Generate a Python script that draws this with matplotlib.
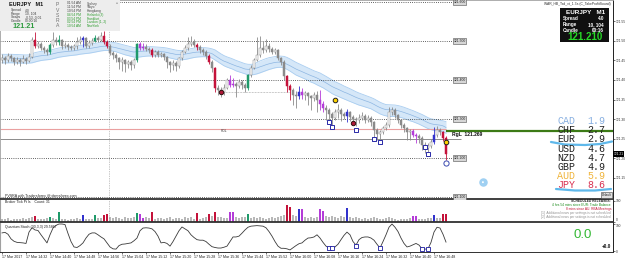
import numpy as np
import pandas as pd
import matplotlib
matplotlib.use("Agg")
import matplotlib.pyplot as plt
from matplotlib.patches import Rectangle
from matplotlib.lines import Line2D

# ---------------- data ----------------
symbol = "EURJPY"
timeframe = "M1"
time_labels = ["17 Mar 2017", "17 Mar 14:32", "17 Mar 14:40", "17 Mar 14:48", "17 Mar 14:56",
               "17 Mar 15:04", "17 Mar 15:12", "17 Mar 15:20", "17 Mar 15:28", "17 Mar 15:36",
               "17 Mar 15:44", "17 Mar 15:52", "17 Mar 16:00", "17 Mar 16:08", "17 Mar 16:16",
               "17 Mar 16:24", "17 Mar 16:32", "17 Mar 16:40", "17 Mar 16:48"]
label_bars = [0, 8, 16, 24, 32, 40, 48, 56, 64, 72, 80, 88, 96, 104, 112, 120, 128, 136, 144]

first_open = 121.452
closes = [121.456, 121.451, 121.462, 121.456, 121.446, 121.451, 121.446, 121.454, 121.449, 121.459,
          121.503, 121.487, 121.492, 121.482, 121.477, 121.472, 121.490, 121.503, 121.497, 121.503,
          121.487, 121.490, 121.485, 121.482, 121.487, 121.497, 121.503, 121.508, 121.487, 121.495,
          121.500, 121.508, 121.503, 121.513, 121.497, 121.487, 121.469, 121.464, 121.456, 121.446,
          121.451, 121.441, 121.446, 121.438, 121.451, 121.492, 121.482, 121.485, 121.479, 121.477,
          121.464, 121.472, 121.464, 121.467, 121.459, 121.446, 121.438, 121.444, 121.436, 121.456,
          121.472, 121.482, 121.492, 121.497, 121.490, 121.485, 121.477, 121.472, 121.462, 121.446,
          121.431, 121.380, 121.374, 121.369, 121.380, 121.400, 121.387, 121.390, 121.385, 121.395,
          121.387, 121.380, 121.413, 121.431, 121.451, 121.464, 121.482, 121.477, 121.487, 121.479,
          121.472, 121.477, 121.456, 121.446, 121.410, 121.385, 121.374, 121.362, 121.359, 121.369,
          121.362, 121.367, 121.359, 121.354, 121.362, 121.349, 121.338, 121.328, 121.323, 121.313,
          121.303, 121.318, 121.323, 121.313, 121.308, 121.318, 121.305, 121.300, 121.297, 121.303,
          121.308, 121.297, 121.303, 121.292, 121.272, 121.261, 121.267, 121.277, 121.285, 121.318,
          121.323, 121.310, 121.297, 121.285, 121.277, 121.267, 121.270, 121.259, 121.256, 121.251,
          121.233, 121.226, 121.231, 121.241, 121.259, 121.272, 121.267, 121.251, 121.210]
highs = [121.466, 121.462, 121.468, 121.467, 121.460, 121.458, 121.456, 121.463, 121.458, 121.468,
         121.510, 121.523, 121.500, 121.497, 121.488, 121.481, 121.494, 121.523, 121.510, 121.515,
         121.505, 121.498, 121.495, 121.490, 121.493, 121.510, 121.512, 121.512, 121.510, 121.502,
         121.508, 121.515, 121.513, 121.522, 121.525, 121.502, 121.492, 121.475, 121.470, 121.460,
         121.458, 121.455, 121.452, 121.450, 121.456, 121.495, 121.497, 121.495, 121.492, 121.485,
         121.482, 121.478, 121.477, 121.473, 121.470, 121.462, 121.449, 121.451, 121.448, 121.460,
         121.477, 121.490, 121.510, 121.513, 121.505, 121.496, 121.490, 121.482, 121.476, 121.466,
         121.450, 121.434, 121.386, 121.383, 121.390, 121.405, 121.413, 121.405, 121.395, 121.402,
         121.400, 121.392, 121.415, 121.438, 121.456, 121.510, 121.513, 121.500, 121.505, 121.495,
         121.485, 121.483, 121.480, 121.460, 121.450, 121.414, 121.390, 121.380, 121.372, 121.384,
         121.380, 121.372, 121.370, 121.362, 121.370, 121.372, 121.374, 121.345, 121.336, 121.328,
         121.318, 121.326, 121.338, 121.328, 121.318, 121.325, 121.320, 121.310, 121.306, 121.312,
         121.318, 121.312, 121.310, 121.308, 121.296, 121.276, 121.272, 121.283, 121.292, 121.331,
         121.331, 121.328, 121.313, 121.300, 121.290, 121.280, 121.275, 121.275, 121.265, 121.262,
         121.256, 121.240, 121.238, 121.248, 121.279, 121.281, 121.278, 121.270, 121.256]
lows = [121.444, 121.440, 121.446, 121.449, 121.438, 121.441, 121.437, 121.443, 121.442, 121.445,
        121.456, 121.482, 121.482, 121.478, 121.470, 121.464, 121.467, 121.485, 121.490, 121.490,
        121.480, 121.482, 121.478, 121.476, 121.478, 121.480, 121.492, 121.484, 121.481, 121.483,
        121.490, 121.497, 121.497, 121.500, 121.492, 121.482, 121.463, 121.455, 121.445, 121.428,
        121.424, 121.421, 121.430, 121.426, 121.432, 121.447, 121.476, 121.478, 121.474, 121.470,
        121.460, 121.460, 121.458, 121.458, 121.450, 121.431, 121.421, 121.426, 121.423, 121.432,
        121.452, 121.468, 121.478, 121.488, 121.484, 121.478, 121.470, 121.465, 121.455, 121.440,
        121.421, 121.369, 121.362, 121.356, 121.362, 121.376, 121.383, 121.382, 121.356, 121.380,
        121.378, 121.370, 121.375, 121.408, 121.428, 121.448, 121.460, 121.470, 121.472, 121.472,
        121.466, 121.466, 121.450, 121.438, 121.400, 121.369, 121.349, 121.336, 121.328, 121.352,
        121.352, 121.349, 121.336, 121.323, 121.345, 121.318, 121.323, 121.318, 121.297, 121.290,
        121.279, 121.298, 121.303, 121.295, 121.300, 121.292, 121.296, 121.290, 121.282, 121.290,
        121.298, 121.290, 121.292, 121.282, 121.251, 121.246, 121.241, 121.262, 121.272, 121.280,
        121.310, 121.303, 121.290, 121.276, 121.266, 121.246, 121.246, 121.254, 121.238, 121.238,
        121.221, 121.213, 121.215, 121.225, 121.236, 121.254, 121.260, 121.244, 121.195]
# PVSRA candle class per bar: n normal, r bear climax, g bull climax, b bull rising, p bear rising
bar_kinds = list("nnnnnnnnnn" "nrnnnngnng" "nnnnnnnbnn" "ngnnrrnnnn" "nnnnngppnn"
                 "rnnnnnnnnn" "nnnnnrnnnr" "nrnnnnppnn" "nngnnnnnnn" "nnnnnrrnnb"
                 "pnnnnnppnn" "nnnnnbnnnn" "nnnnnnnnnn" "nnnnnnnppn" "nnnnbnnrr")
volumes = [15, 12, 18, 10, 14, 16, 12, 20, 14, 18,
           22, 28, 14, 16, 12, 18, 25, 20, 16, 45,
           14, 12, 10, 16, 12, 18, 14, 35, 12, 16,
           14, 32, 18, 20, 34, 36, 22, 18, 24, 20,
           16, 22, 18, 20, 24, 42, 40, 18, 22, 20,
           46, 14, 18, 20, 16, 18, 22, 14, 20, 18,
           16, 22, 18, 26, 14, 42, 16, 20, 24, 40,
           28, 48, 22, 26, 18, 20, 45, 45, 24, 18,
           22, 26, 40, 20, 22, 18, 24, 20, 16, 18,
           22, 20, 26, 30, 34, 80, 70, 32, 28, 60,
           60, 26, 20, 24, 18, 22, 62, 50, 28, 24,
           30, 26, 20, 28, 22, 66, 24, 20, 26, 18,
           16, 20, 14, 18, 22, 20, 16, 14, 18, 24,
           20, 12, 10, 12, 14, 16, 18, 30, 30, 14,
           16, 12, 18, 20, 34, 18, 20, 36, 36]
stoch = [67, 69, 62, 45, 36, 32, 31, 30, 28, 70,
         86, 78, 76, 60, 45, 30, 60, 85, 95, 100,
         100, 98, 65, 35, 15, 13, 20, 30, 48, 62,
         67, 67, 60, 52, 45, 30, 15, 8, 7, 20,
         25, 26, 28, 30, 38, 48, 75, 85, 86, 85,
         82, 72, 55, 30, 32, 28, 18, 35, 55, 75,
         89, 82, 75, 60, 50, 42, 40, 40, 35, 25,
         16, 13, 11, 11, 14, 18, 35, 52, 52, 55,
         66, 78, 88, 92, 93, 94, 93, 92, 86, 72,
         55, 35, 18, 10, 10, 8, 4, 12, 20, 27,
         30, 40, 48, 49, 52, 60, 48, 32, 18, 11,
         11, 15, 25, 42, 58, 70, 60, 35, 22, 42,
         50, 52, 52, 48, 40, 25, 11, 35, 60, 88,
         100, 88, 72, 48, 28, 15, 18, 23, 28, 22,
         8, 7, 8, 32, 70, 88, 85, 62, 33]

round_levels = [121.6, 121.5, 121.4, 121.3, 121.2, 121.1]
axis_ticks = [121.15, 121.20, 121.25, 121.30, 121.35, 121.40, 121.45, 121.50, 121.55]
rdl_level = 121.274
prev_close_level = 121.249
rgl_level = 121.269
current_price = 121.210
trend_level = 121.369
trend_from, trend_to = 73, 96

square_bars = [109, 110, 118, 124, 126, 141, 142]
square_prices = [121.292, 121.279, 121.272, 121.249, 121.241, 121.228, 121.210]
yellow_bars = [111, 148]
yellow_prices = [121.349, 121.241]
red_bars = [73, 117]
red_prices = [121.369, 121.290]
blue_circle_bars = [148]
blue_circle_prices = [121.187]
stoch_sq_bars = [109, 110, 118, 126, 140, 142]
stoch_sq_vals = [11, 11, 20, 10, 8, 8]

currencies = ["CAD", "CHF", "EUR", "USD", "NZD", "GBP", "AUD", "JPY"]
strengths = [1.9, 2.7, 2.9, 4.6, 4.7, 4.9, 5.9, 8.6]
strength_colors = ["#86aee0", "#202020", "#202020", "#202020", "#202020", "#202020", "#f0b43a", "#d83050"]

sessions = ["Sydney", "Tokyo", "Hongkong", "Helsinki (3)", "Frankfurt", "London (1, 2)", "NewYork"]
session_times = ["01:54 AM", "11:54 PM", "10:54 PM", "04:54 PM", "03:54 PM", "02:54 PM", "10:54 AM"]
session_colors = ["#404040", "#404040", "#404040", "#2a9a2a", "#2a9a2a", "#2a9a2a", "#2a9a2a"]

news_lines = ["SCHEDULED RELEASES:", "4 hrs 54 mins since EUR: Trade Balance",
              "8 mins since AU: RBA Meetings",
              "[1]  Additional news per settings is not scheduled",
              "[2]  Additional news per settings is not scheduled"]
news_colors = ["#202020", "#1a8a1a", "#c01030", "#909090", "#909090"]

# ---------------- figure ----------------
W, H = 625, 259
fig = plt.figure(figsize=(W / 100, H / 100), dpi=100)
fig.patch.set_facecolor("white")
plt.rcParams["font.family"] = ["Liberation Sans", "DejaVu Sans"]


def fx(px):
    return px / W


def fy(py):
    return 1 - py / H


AX_R = 613
XL = (-2 / 3, (AX_R - 2) / 3)
ax = fig.add_axes([0, fy(199), fx(AX_R), 199 / H])
axv = fig.add_axes([0, fy(222), fx(AX_R), 22 / H])
axo = fig.add_axes([0, fy(252), fx(AX_R), 29 / H])

kind_colors = {"n": "#8a8a8a", "r": "#c4123a", "g": "#1f9a6a", "b": "#3232cc", "p": "#b43cd8"}
vol_colors = {"n": "#b8b8b8", "r": "#c4123a", "g": "#1f9a6a", "b": "#3232cc", "p": "#b43cd8"}

n = len(closes)
idx = np.arange(n)
opens = [first_open] + closes[:-1]

# ---- main panel ----
ax.set_xlim(*XL)
ax.set_ylim(121.0949, 121.6051)

# 34-EMA wave band
ema_h = pd.Series(highs).ewm(span=34, adjust=False).mean()
ema_l = pd.Series(lows).ewm(span=34, adjust=False).mean()
ema_c = pd.Series(closes).ewm(span=34, adjust=False).mean()
ax.fill_between(idx, ema_l, ema_h, color="#d5e7f8", zorder=1, lw=0)
ax.plot(idx, ema_h, color="#a9cdf0", lw=0.6, zorder=1.5)
ax.plot(idx, ema_l, color="#a9cdf0", lw=0.6, zorder=1.5)
ax.plot(idx, ema_c, color="#8db6e2", lw=0.5, zorder=1.5)

# levels
for lv in round_levels:
    ax.hlines(lv, XL[0], 150.3, colors="#303030", linestyles=(0, (1, 1.6)), lw=0.6, zorder=2)
    ax.text(152.5, lv, f"{lv:.3f}", fontsize=2.4, ha="center", va="center", color="#202020", zorder=6,
            bbox=dict(boxstyle="square,pad=0.25", fc="#d6d6d6", ec="#505050", lw=0.4))
ax.hlines(rdl_level, XL[0], 148, colors="#eaa0a0", lw=0.8, zorder=2)
ax.text(74, rdl_level - 0.006, "RDL", fontsize=2.4, color="#404040", ha="center", va="center")
ax.hlines(prev_close_level, XL[0], 153, colors="#8c8c8c", lw=0.7, zorder=2)
ax.hlines(rgl_level, 148, XL[1], colors="#3c7a16", lw=1.6, zorder=3)
ax.text(150, rgl_level - 0.0085, f"RgL  {rgl_level:.3f}", fontsize=3.6, fontweight="bold",
        color="#101010", ha="left", va="center", zorder=6)
ax.hlines(trend_level, trend_from, trend_to, colors="#909090", linestyles=(0, (1, 1.2)), lw=0.5, zorder=2)
ax.axvline(35.7, color="#909090", ls=(0, (1, 1.5)), lw=0.5, zorder=1)

# candles
for i in range(n):
    k = bar_kinds[i]
    col = kind_colors[k]
    ax.vlines(i, lows[i], highs[i], color=col, lw=0.6, zorder=3)
    lo = min(opens[i], closes[i])
    hgt = max(abs(closes[i] - opens[i]), 0.0012)
    bull = closes[i] >= opens[i]
    fc = "white" if (k == "n" and bull) else col
    ax.add_patch(Rectangle((i - 0.3, lo), 0.6, hgt, facecolor=fc, edgecolor=col, lw=0.35, zorder=4))

# markers
ax.scatter(square_bars, square_prices, marker="s", s=7, facecolors="white", edgecolors="#2a2aa8", lw=0.7, zorder=5)
ax.scatter(yellow_bars, yellow_prices, marker="o", s=11, facecolors="#ffd400", edgecolors="#202020", lw=0.7, zorder=5)
ax.scatter(red_bars, red_prices, marker="o", s=10, facecolors="#b01838", edgecolors="#301010", lw=0.7, zorder=5)
ax.scatter(blue_circle_bars, blue_circle_prices, marker="o", s=14, facecolors="white", edgecolors="#3a4ab0", lw=0.7, zorder=5)
ax.scatter([160.3], [121.138], marker="o", s=26, facecolors="#9fd0f2", edgecolors="#9fd0f2", zorder=5)
ax.scatter([160.3], [121.138], marker="o", s=2, facecolors="white", edgecolors="none", zorder=6)

ax.yaxis.tick_right()
ax.set_yticks(axis_ticks)
ax.set_yticklabels([f"{v:.2f}" for v in axis_ticks], fontsize=2.3, color="#303030")
ax.tick_params(axis="y", length=1.2, width=0.4, pad=0.8)
ax.set_xticks([])
for s in ["top", "left"]:
    ax.spines[s].set_color("#a0a0a0")
    ax.spines[s].set_linewidth(0.6)
ax.spines["right"].set_color("#202020")
ax.spines["right"].set_linewidth(0.7)
ax.spines["bottom"].set_color("#303030")
ax.spines["bottom"].set_linewidth(1.3)
ax.text(1, 121.1045, "PVSRA with Tradersforex @ dsmaforex.com", fontsize=2.6, color="#202020", va="center")

# ---- volume panel ----
axv.set_xlim(*XL)
axv.set_ylim(0, 104)
axv.bar(idx, volumes, width=0.5, color=[vol_colors[k] for k in bar_kinds], lw=0)
axv.axvline(35.7, color="#909090", ls=(0, (1, 1.5)), lw=0.5)
axv.yaxis.tick_right()
axv.set_yticks([0, 100])
axv.set_yticklabels(["0", "100"], fontsize=2.3, color="#303030")
axv.get_yticklabels()[0].set_va("bottom")
axv.tick_params(axis="y", length=1.2, width=0.4, pad=0.8)
axv.set_xticks([])
axv.spines["bottom"].set_color("#303030")
axv.spines["bottom"].set_linewidth(1.3)
axv.spines["top"].set_visible(False)
axv.spines["left"].set_color("#a0a0a0")
axv.spines["right"].set_color("#202020")
axv.spines["right"].set_linewidth(0.7)
axv.text(1, 94, "Broker Tick Pt ls    Count: 31", fontsize=2.5, color="#202020", va="center")

# ---- oscillator panel ----
axo.set_xlim(*XL)
axo.set_ylim(-3.7, 103.7)
axo.plot(idx, stoch, color="#3a3a3a", lw=0.6)
axo.scatter(stoch_sq_bars, stoch_sq_vals, marker="s", s=6, facecolors="white", edgecolors="#1a1aa0", lw=0.6, zorder=5)
axo.yaxis.tick_right()
axo.set_yticks([0, 100])
axo.set_yticklabels(["0", "100"], fontsize=2.3, color="#303030")
axo.get_yticklabels()[1].set_va("top")
axo.tick_params(axis="y", length=1.2, width=0.4, pad=0.8)
axo.set_xticks(label_bars)
axo.set_xticklabels(time_labels, fontsize=2.6, color="#202020", ha="left")
axo.tick_params(axis="x", length=1.5, width=0.4, pad=0.8)
axo.spines["top"].set_visible(False)
axo.spines["left"].set_color("#a0a0a0")
axo.spines["right"].set_color("#202020")
axo.spines["right"].set_linewidth(0.7)
axo.spines["bottom"].set_color("#303030")
axo.spines["bottom"].set_linewidth(0.7)
axo.text(1, 90, "Quantum Stoch (30,3,3) 29.5867", fontsize=2.5, color="#202020", va="center")

# ---------------- overlays (figure coordinates) ----------------
def ftext(px, py, s, **kw):
    fig.text(fx(px), fy(py), s, **kw)


# top-left info panel
fig.add_artist(Rectangle((0, fy(31)), fx(120), 31 / H, transform=fig.transFigure,
                         facecolor="#ededed", edgecolor="none", zorder=5))
ftext(9, 5, f"{symbol}   {timeframe}", fontsize=4.0, fontweight="bold", color="#151515", va="center", zorder=6)
info_labels = ["Spread", "Range", "Swaps", "Candle"]
info_values = ["4.0", "10, 104", "-0.53, 0.01", "00:00:16"]
for k, (lab, val) in enumerate(zip(info_labels, info_values)):
    ftext(11, 10.5 + 3.4 * k, lab, fontsize=2.4, color="#404040", va="center", zorder=6)
    ftext(25, 10.5 + 3.4 * k, val, fontsize=2.4, color="#404040", va="center", zorder=6)
ftext(12, 26, "121.21", fontsize=5.2, fontweight="bold", color="#2e9a3e", va="center", zorder=6)
for k, ch in enumerate("PVSRA"):
    ftext(57.5, 5 + 5.2 * k, ch, fontsize=3.6, color="#707070", ha="center", va="center", zorder=6)
for k in range(len(sessions)):
    ftext(67, 3.5 + 3.75 * k, session_times[k], fontsize=2.3, color=session_colors[k], va="center", zorder=6)
    ftext(87, 3.5 + 3.75 * k, sessions[k], fontsize=2.3, color=session_colors[k], va="center", zorder=6)
ftext(117, 3.5, "^", fontsize=3, color="#404040", ha="center", va="center", zorder=6)

# top-right EA name + black box
ftext(611, 4.5, "WAR_HB_Tsd_vt_1.3a (C_TakeProfitSound)", fontsize=2.4, color="#303030", ha="right", va="center", zorder=6)
fig.add_artist(Rectangle((fx(560), fy(42)), fx(49), 34 / H, transform=fig.transFigure,
                         facecolor="#101010", edgecolor="none", zorder=5))
ftext(586, 12, f"{symbol}   {timeframe}", fontsize=4.6, fontweight="bold", color="white", ha="center", va="center", zorder=6)
box_labels = ["Spread", "Range", "Candle"]
box_values = ["4.0", "10, 104", "00:16"]
for k, (lab, val) in enumerate(zip(box_labels, box_values)):
    ftext(563, 18.5 + 6.2 * k, lab, fontsize=3.3, fontweight="bold", color="white", ha="left", va="center", zorder=6)
    ftext(604, 18.5 + 6.2 * k, val, fontsize=3.3, fontweight="bold", color="white", ha="right", va="center", zorder=6)
ftext(585, 37, f"{current_price:.3f}", fontsize=7.0, fontweight="bold", color="#28d828", ha="center", va="center", zorder=6)

# current price tag on axis
ftext(613.5, 154, f"{current_price:.2f}", fontsize=2.3, color="white", ha="left", va="center", zorder=7,
      bbox=dict(boxstyle="square,pad=0.2", fc="#000000", ec="none"))

# currency strength table
for k, (cur, val, col) in enumerate(zip(currencies, strengths, strength_colors)):
    yy = 121.0 + 9.2 * k
    ftext(557, yy, cur, fontsize=7.2, family="Liberation Mono", color=col, va="center", zorder=6)
    ftext(587, yy, f"{val:.1f}", fontsize=7.2, family="Liberation Mono", color=col, va="center", zorder=6)
fig.add_artist(Line2D([fx(551), fx(565), fx(585), fx(600), fx(612)],
                      [fy(142), fy(144.5), fy(145), fy(144), fy(141.5)],
                      transform=fig.transFigure, color="#5fb8ea", lw=1.6, zorder=6, solid_capstyle="round"))
fig.add_artist(Line2D([fx(556), fx(575), fx(595), fx(611)],
                      [fy(189), fy(190.5), fy(190.5), fy(189)],
                      transform=fig.transFigure, color="#5fb8ea", lw=1.6, zorder=6, solid_capstyle="round"))
ftext(611, 195, "Default", fontsize=2.2, color="#202020", ha="right", va="center", zorder=6,
      bbox=dict(boxstyle="square,pad=0.2", fc="#e0e0e0", ec="#404040", lw=0.4))

# news block
for k, (line, col) in enumerate(zip(news_lines, news_colors)):
    ftext(611, 201 + 4.0 * k, line, fontsize=2.3, color=col, ha="right", va="center", zorder=6,
          fontweight="bold" if k == 0 else "normal")

# oscillator value labels
ftext(583, 235, "0.0", fontsize=9.5, color="#33b833", ha="center", va="center", zorder=6)
ftext(611, 247, "+0.0", fontsize=3.4, fontweight="bold", color="#101010", ha="right", va="center", zorder=6)

fig.savefig("out.png", dpi=100, facecolor="white")
